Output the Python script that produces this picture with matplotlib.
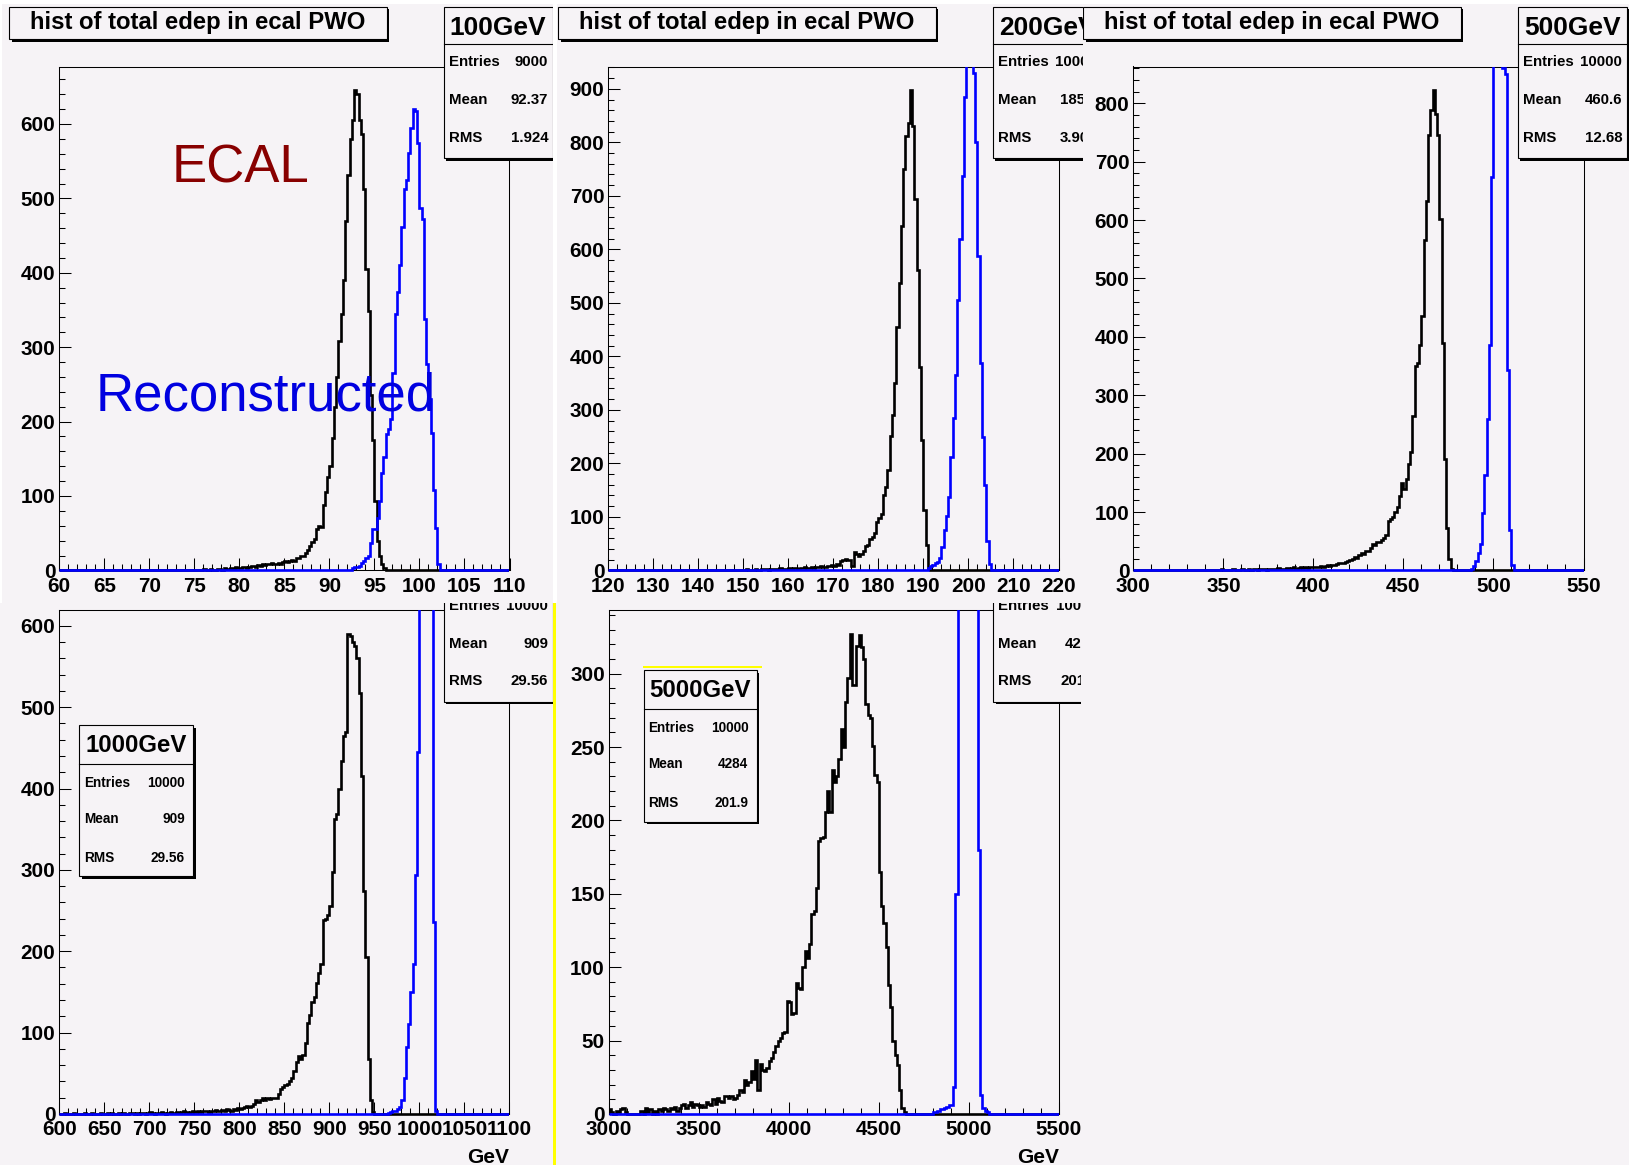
import numpy as np
import matplotlib
matplotlib.use('Agg')
import matplotlib.pyplot as plt
from matplotlib.patches import Rectangle
from matplotlib.ticker import MultipleLocator, FormatStrFormatter
from matplotlib.transforms import Bbox, TransformedBbox

plt.rcParams['font.family'] = ['Liberation Sans', 'DejaVu Sans']
plt.rcParams['font.weight'] = 'bold'

W, H = 1629, 1165
BG = '#f6f3f6'

# ---------------- data ----------------
energies = ['100GeV', '200GeV', '500GeV', '1000GeV', '5000GeV']
x_ranges = [(60, 110), (120, 220), (300, 550), (600, 1100), (3000, 5500)]
n_bins = 200
entries = ['9000', '10000', '10000', '10000', '10000']
means = ['92.37', '185.2', '460.6', '909', '4284']
rmss = ['1.924', '3.906', '12.68', '29.56', '201.9']

# ECAL (black) : first bin low edge + bin contents
ecal_start = [74.0, 145.0, 320.0, 605.0, 3000.0]
ecal_100 = [1, 0, 0, 1, 0, 1, 1, 0, 2, 1, 1, 2, 1, 1, 2, 2, 1, 3, 2, 2,
            3, 2, 4, 3, 3, 4, 5, 3, 5, 6, 6, 5, 7, 6, 8, 7, 9, 8, 10, 9,
            9, 10, 9, 11, 12, 11, 13, 14, 13, 16, 17, 20, 19, 24, 27, 33, 38, 42, 55, 60,
            58, 88, 105, 126, 140, 178, 220, 260, 308, 344, 390, 470, 531, 580, 605, 645,
            640, 605, 587, 513, 405, 349, 236, 175, 93, 39, 20, 8, 3, 1]
ecal_200 = [1, 0, 0, 1, 0, 1, 0, 1, 1, 0, 1, 2, 1, 0, 1, 2, 1, 1, 2, 3,
            2, 1, 2, 3, 2, 3, 4, 2, 3, 3, 4, 3, 5, 4, 3, 4, 5, 6, 4, 5,
            6, 5, 7, 6, 8, 7, 6, 9, 8, 10,
            9, 12, 10, 17, 19, 21, 20, 19, 9, 34, 30, 26, 30, 37, 45, 48, 59, 62, 70, 91,
            98, 105, 141, 155, 187, 251, 291, 351, 455, 537, 644, 751, 812, 837, 897, 830,
            694, 562, 380, 244, 112, 48, 2]
ecal_500 = [1, 0, 0, 1, 0, 0, 1, 0, 0, 1, 0, 1, 0, 0, 1, 1, 0, 1, 0, 1,
            1, 0, 1, 2, 1, 0, 1, 1, 2, 1, 0, 1, 2, 1, 1, 2, 1, 2, 2, 1,
            2, 3, 2, 1, 2, 3, 2, 3, 4, 2, 3, 3, 4, 3, 4, 5, 3, 4, 5, 4, 5, 4, 6, 5,
            5, 6, 5, 7, 6, 8, 9, 8, 10, 10, 11, 12, 12, 13, 14, 16, 17, 20, 23, 22,
            26, 29, 28, 33, 33, 38, 46, 44, 49, 48, 52, 56,
            60, 85, 88, 92, 100, 108, 128, 150, 140, 157, 183, 203, 265, 350, 355, 386,
            435, 566, 632, 746, 789, 822, 782, 746, 602, 390, 190, 72, 20, 3]
ecal_1000 = [1, 0, 0, 0, 1, 0, 0, 0, 0, 1, 0, 0, 1, 0, 0, 0, 1, 0, 0, 1,
             0, 1, 0, 0, 1, 0, 1, 0, 0, 1, 1, 0, 1, 0, 1, 1, 0, 1, 2, 1,
             0, 1, 1, 2, 1, 0, 1, 2, 1, 1, 2, 1, 2, 3, 2, 1, 2, 3, 2, 3,
             2, 3, 4, 3, 2, 4, 3, 5, 4, 3, 5, 4, 6, 5, 4, 6, 5, 7,
             6, 7, 8, 10, 9, 10, 12, 17, 15, 17, 19, 17, 20, 18, 19, 20, 19, 25, 31, 33,
             35, 37, 40, 44, 53, 64, 71, 67, 73, 87, 112, 121, 137, 144, 161, 173, 184, 238,
             240, 245, 256, 297, 362, 369, 400, 434, 465, 470, 590, 588, 580, 575, 561, 518,
             416, 274, 193, 67, 17, 2]
ecal_5000 = [3, 1, 0, 2, 1, 3, 4, 1, 0, 0, 0, 0, 0, 0, 2, 0, 4, 1, 3, 0,
             2, 0, 3, 2, 4, 3, 2, 4, 3, 5, 2, 4, 6, 7, 4, 6, 8, 5, 7, 6,
             5, 6, 5, 8, 7, 6, 10, 7, 11, 9, 8, 12,
             12, 11, 12, 10, 11, 13, 16, 15, 23, 20, 22, 29, 24, 37, 16, 34, 30, 29, 31, 36,
             38, 42, 46, 50, 52, 55, 56, 77, 76, 68, 69, 89, 86, 85, 100, 111, 106, 116, 136, 138,
             154, 186, 188, 189, 206, 220, 206, 234, 226, 230, 242, 262, 250, 281, 297, 327,
             292, 292, 319, 326, 318, 310, 279, 272, 270, 251, 231, 226, 165, 142, 130, 114,
             88, 73, 50, 40, 33, 16, 4, 1]

# Reconstructed (blue)
reco_start = [92.5, 190.5, 486.25, 965.0, 4800.0]
reco_100 = [3, 4, 5, 6, 10, 12, 17, 19, 37, 55, 55, 70, 93, 131, 152, 183, 190, 203, 265, 344,
            374, 411, 462, 513, 525, 561, 595, 620, 618, 574, 487, 472, 338, 277, 230, 185,
            108, 57, 9, 1]
reco_200 = [1, 5, 9, 10, 14, 16, 23, 44, 76, 101, 137, 212, 284, 366, 505, 619, 737, 884,
            1010, 1080, 1050, 930, 801, 587, 387, 250, 159, 55, 12, 1]
reco_500 = [1, 2, 7, 16, 29, 46, 98, 164, 259, 386, 674, 1200, 1500, 1550, 1250, 860, 850,
            344, 69, 10]
reco_1000 = [1, 2, 3, 4, 6, 9, 17, 44, 82, 110, 150, 184, 294, 445, 900, 1300, 1500, 1450,
             1200, 800, 236, 4]
reco_5000 = [1, 1, 2, 3, 3, 4, 5, 6, 6, 18, 150, 700, 1200, 1500, 1650, 1600, 1400, 1000,
             700, 400, 180, 13, 4, 2, 1]

ecal = [ecal_100, ecal_200, ecal_500, ecal_1000, ecal_5000]
reco = [reco_100, reco_200, reco_500, reco_1000, reco_5000]

# axis ticks (major, minor)
x_ticks = [(5, 1), (10, 2), (50, 10), (50, 10), (500, 100)]
y_ticks = [(100, 20), (100, 20), (100, 20), (100, 20), (50, 10)]

# ---------------- layout (pixels, origin top-left) ----------------
offsets = [(0, 0), (549, 0), (1074, 0), (0, 543.5), (549.5, 543.5)]
windows = [(2, 4, 553, 603), (557, 4, 1082.7, 603), (1082.7, 4, W, 603),
           (2, 603, 553.5, H), (557, 603, 1081, H)]

fig = plt.figure(figsize=(W / 100, H / 100), dpi=100, facecolor=BG)


def frac(x0, y0, x1, y1):
    return [x0 / W, 1 - y1 / H, (x1 - x0) / W, (y1 - y0) / H]


def pix_axes(x0, y0, x1, y1, z):
    ax = fig.add_axes(frac(x0, y0, x1, y1), zorder=z)
    ax.set_xlim(x0, x1)
    ax.set_ylim(y1, y0)
    ax.axis('off')
    ax.set_facecolor('none')
    return ax


def pave(ax, x0, y0, x1, y1):
    ax.add_patch(Rectangle((x0 + 2.5, y0 + 2.5), x1 - x0, y1 - y0, facecolor='black', lw=0))
    ax.add_patch(Rectangle((x0, y0), x1 - x0, y1 - y0, facecolor=BG, edgecolor='black', lw=0.8))


def txt(ax, x, y, s, size, ha='left', **kw):
    ax.text(x, y, s, fontsize=size, ha=ha, va='baseline', clip_on=True, **kw)


def stats(ax, x0, y0, x1, y1, hline, hbase, rows, head, hsize, vals, rsize, lpad, rpad):
    pave(ax, x0, y0, x1, y1)
    ax.plot([x0, x1], [y0 + hline] * 2, color='black', lw=0.8)
    txt(ax, (x0 + x1) / 2, y0 + hbase, head, hsize, ha='center')
    for name, v, r in zip(['Entries', 'Mean', 'RMS'], vals, rows):
        txt(ax, x0 + lpad, y0 + r, name, rsize)
        txt(ax, x1 - rpad, y0 + r, v, rsize, ha='right')


for k in range(5):
    dx, dy = offsets[k]
    lo, hi = x_ranges[k]

    # histogram frame
    ax = fig.add_axes(frac(59.3 + dx, 66.5 + dy, 509.5 + dx, 570.4 + dy), zorder=1)
    ax.set_facecolor('none')
    edges = np.linspace(lo, hi, n_bins + 1)
    for start, vals, col in ((ecal_start[k], ecal[k], 'black'),
                             (reco_start[k], reco[k], '#0000ff')):
        counts = np.zeros(n_bins)
        i0 = int(round((start - lo) / (hi - lo) * n_bins))
        counts[i0:i0 + len(vals)] = vals
        st = ax.stairs(counts, edges, color=col, lw=1.9, zorder=3)
        st.set_clip_path(None)
        st.set_clip_box(TransformedBbox(Bbox([[0, -0.012], [1, 1]]), ax.transAxes))
    ax.set_xlim(lo, hi)
    ax.set_ylim(0, 1.05 * max(ecal[k]))
    ax.xaxis.set_major_locator(MultipleLocator(x_ticks[k][0]))
    ax.xaxis.set_minor_locator(MultipleLocator(x_ticks[k][1]))
    ax.yaxis.set_major_locator(MultipleLocator(y_ticks[k][0]))
    ax.yaxis.set_minor_locator(MultipleLocator(y_ticks[k][1]))
    ax.xaxis.set_major_formatter(FormatStrFormatter('%g'))
    ax.yaxis.set_major_formatter(FormatStrFormatter('%g'))
    ax.tick_params(which='both', direction='in', top=False, right=False,
                   width=0.75, color='black')
    ax.tick_params(which='major', length=8.6)
    ax.tick_params(which='minor', length=4.3)
    ax.tick_params(axis='x', which='major', labelsize=14.9, pad=4.5)
    ax.tick_params(axis='y', which='major', labelsize=14.9, pad=2.8)
    for s in ax.spines.values():
        s.set_linewidth(0.75)

    # canvas decorations
    ov = pix_axes(*windows[k], 3)
    pave(ov, 9.3 + dx, 6.7 + dy, 386.5 + dx, 39.3 + dy)
    txt(ov, 197.9 + dx, 28.5 + dy, 'hist of total edep in ecal PWO', 17.2, ha='center')
    stats(ov, 443.6 + dx, 6.7 + dy, 552.7 + dx, 158 + dy, 37.6, 28.3, (59.3, 97.3, 135),
          energies[k], 19, (entries[k], means[k], rmss[k]), 10.8, 5.2, 4.4)
    if k >= 3:
        txt(ov, 509.5 + dx, 1163, 'GeV', 15, ha='right')

    if k == 0:
        txt(ov, 171.4, 182.9, 'ECAL', 38, color='#880000', fontweight='normal')
        txt(ov, 95.6, 410.4, 'Reconstructed', 38, color='#0000e0', fontweight='normal')
    if k == 3:
        stats(ov, 79, 725, 193, 876, 39, 26.7, (61.7, 98.3, 136.7), energies[k], 17.3,
              (entries[k], means[k], rmss[k]), 9.8, 5, 8)
    if k == 4:
        ov.add_patch(Rectangle((642.7, 666.3), 119, 2, facecolor='#ffff00', lw=0))
        stats(ov, 644, 670, 756.7, 821.7, 39.3, 26.7, (61.7, 98.3, 136.7), energies[k], 17.3,
              (entries[k], means[k], rmss[k]), 9.8, 4.3, 8.4)

# strips between the pasted canvases
g = pix_axes(0, 0, W, H, 5)
g.add_patch(Rectangle((0, 0), W, 4, facecolor='white', lw=0))
g.add_patch(Rectangle((0, 0), 2, 603, facecolor='white', lw=0))
g.add_patch(Rectangle((553, 0), 4, 603, facecolor='white', lw=0))
g.add_patch(Rectangle((553.5, 603), 2.5, H - 603, facecolor='#ffff00', lw=0))

fig.savefig('out.png', dpi=100, facecolor=BG)
